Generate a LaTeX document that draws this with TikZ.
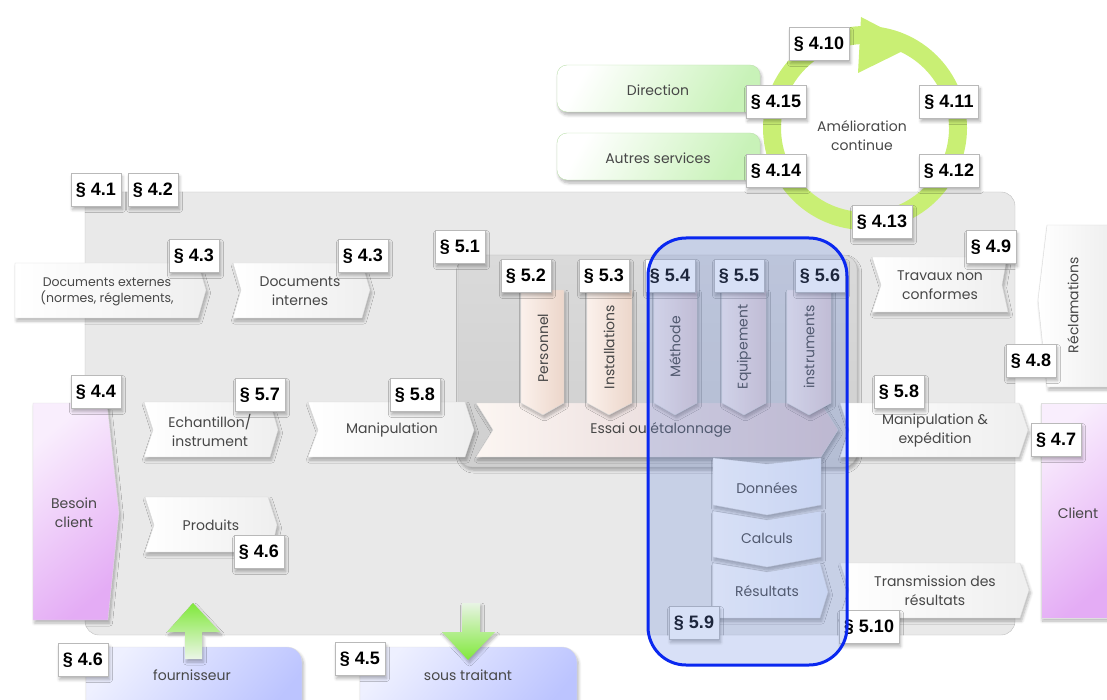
\documentclass[tikz,border=0pt]{standalone}
\usepackage{fontspec}
\setmainfont{Poppins}
\newfontfamily\secfam{Liberation Sans}
\usetikzlibrary{shadows,shadows.blur}
\definecolor{txtc}{HTML}{474747}
\definecolor{ringc}{HTML}{C9EF74}
\definecolor{bluel}{HTML}{0A28F0}
\definecolor{bluef}{HTML}{6E8EE0}
\tikzset{
 shd/.style={blur shadow={shadow xshift=1.5pt, shadow yshift=-3pt, shadow blur radius=3pt, shadow blur steps=6, shadow opacity=30}},
 chv/.style={left color=white, right color=gray!13, draw=gray!30, line width=0.4pt, shd},
 txt/.style={font=\fontsize{14}{19}\selectfont, text=txtc, align=center, inner sep=0pt},
 sec/.style={draw=gray!55, fill=white, font=\secfam\bfseries\fontsize{18}{20}\selectfont, text=black, inner xsep=5pt, inner ysep=0pt, minimum height=33pt, shd},
}
\begin{document}
\begin{tikzpicture}[x=1pt,y=-1pt]
\useasboundingbox (0,0) rectangle (1107,700);
\clip (0,0) rectangle (1107,700);
% main area
\path[draw=gray!50, fill={rgb,255:red,233;green,233;blue,233}, rounded corners=14] (85,192) rectangle (1015,635);
% green boxes
\path[top color=white, bottom color={rgb,255:red,200;green,242;blue,184}, shading angle=60, draw={rgb,255:red,190;green,225;blue,175}, rounded corners=10, shd] (557,65) rectangle (760,112);
\node[txt] (tdir) at (658,90) {Direction};
\path[top color=white, bottom color={rgb,255:red,200;green,242;blue,184}, shading angle=60, draw={rgb,255:red,190;green,225;blue,175}, rounded corners=10, shd] (557,133) rectangle (760,180);
\node[txt] (taut) at (658,158) {Autres services};
% ring
\draw[ringc, line width=18pt] (865,128) circle[radius=93pt];
\fill[ringc] (861,17) -- (915,45) -- (858,73) -- cycle;
\node[txt] (tame) at (862,136) {Amélioration\\continue};
% test area
\path[draw=gray!55, top color={rgb,255:red,218;green,218;blue,218}, bottom color={rgb,255:red,207;green,207;blue,207}, rounded corners=14, shd] (458,255) rectangle (857,467);
% chevrons
\path[chv] (15,263) -- (198,263) -- (206,290) -- (198,318) -- (15,318) -- cycle;
\node[txt, font=\fontsize{12.5}{16}\selectfont] (tdocext) at (107,292) {Documents externes\\(normes, réglements,};
\path[chv] (233,263) -- (362,263) -- (370,290) -- (362,318) -- (233,318) -- (241,290) -- cycle;
\node[txt] (tdocint) at (300,291) {Documents\\internes};
\path[chv] (144,402) -- (270,402) -- (278,430) -- (270,457) -- (144,457) -- (153,430) -- cycle;
\node[txt] (tech) at (210,430) {Echantillon/\\instrument};
\path[chv] (308,402) -- (465,402) -- (474,430) -- (465,457) -- (308,457) -- (318,430) -- cycle;
\node[txt] (tman) at (392,430) {Manipulation};
\path[left color={rgb,255:red,252;green,246;blue,242}, right color={rgb,255:red,220;green,200;blue,204}, draw=gray!30, shd] (476,403) -- (821,403) -- (838,430) -- (821,457) -- (476,457) -- (493,430) -- cycle;
\node[txt] (tess) at (661,430) {Essai ou étalonnage};
\path[chv] (840,403) -- (1019,403) -- (1028,430) -- (1019,457) -- (840,457) -- (849,430) -- cycle;
\node[txt] (tmexp) at (935,430) {Manipulation \&\\expédition};
\path[chv] (872,257) -- (1007,257) -- (1002,285) -- (1008,312) -- (872,312) -- (881,285) -- cycle;
\node[txt] (ttrav) at (940,285) {Travaux non\\conformes};
\path[chv] (145,497) -- (268,497) -- (277,525) -- (271,552) -- (145,552) -- (154,525) -- cycle;
\node[txt] (tprod) at (211,525) {Produits};
\path[chv] (840,563) -- (1020,563) -- (1029,590) -- (1020,618) -- (840,618) -- (849,590) -- cycle;
\node[txt] (ttrans) at (935,591) {Transmission des\\résultats};
\path[chv] (1047,225) -- (1112,225) -- (1112,387) -- (1047,387) -- (1038,300) -- cycle;
\node[txt, rotate=90] (trec) at (1073,305) {Réclamations};
% client boxes
\path[top color={rgb,255:red,249;green,238;blue,253}, bottom color={rgb,255:red,228;green,172;blue,245}, shading angle=40, draw=gray!25, shd] (33,403) -- (107,403) -- (119,513) -- (108,620) -- (33,620) -- cycle;
\node[txt] (tbes) at (74,513) {Besoin\\client};
\path[top color={rgb,255:red,249;green,238;blue,253}, bottom color={rgb,255:red,228;green,172;blue,245}, shading angle=40, draw=gray!25, shd] (1041,403) rectangle (1112,618);
\node[txt] (tcli) at (1078,513) {Client};
% vertical arrows
\path[left color={rgb,255:red,251;green,241;blue,236}, right color={rgb,255:red,236;green,214;blue,202}, draw=gray!30, shd] (521,290) -- (564,290) -- (564,403) -- (543,415) -- (521,403) -- cycle;
\node[txt, rotate=90] (tper) at (543,348) {Personnel};
\path[left color={rgb,255:red,251;green,241;blue,236}, right color={rgb,255:red,236;green,214;blue,202}, draw=gray!30, shd] (587,290) -- (632,290) -- (632,403) -- (609,415) -- (587,403) -- cycle;
\node[txt, rotate=90] (tins) at (609,347) {Installations};
\path[left color={rgb,255:red,245;green,236;blue,236}, right color={rgb,255:red,224;green,206;blue,210}, draw=gray!30, shd] (654,290) -- (697,290) -- (697,403) -- (675,415) -- (654,403) -- cycle;
\node[txt, rotate=90] (tmet) at (675,347) {Méthode};
\path[left color={rgb,255:red,245;green,236;blue,236}, right color={rgb,255:red,224;green,206;blue,210}, draw=gray!30, shd] (722,290) -- (766,290) -- (766,403) -- (744,415) -- (722,403) -- cycle;
\node[txt, rotate=90] (tequ) at (744,347) {Equipement};
\path[left color={rgb,255:red,245;green,236;blue,236}, right color={rgb,255:red,224;green,206;blue,210}, draw=gray!30, shd] (787,290) -- (831,290) -- (831,403) -- (809,415) -- (787,403) -- cycle;
\node[txt, rotate=90] (tinst) at (809,347) {instruments};
% data chain
\path[left color=white, right color={rgb,255:red,236;green,240;blue,250}, draw=gray!30, shd] (713,458) -- (767,464) -- (821,458) -- (821,505) -- (767,515) -- (713,505) -- cycle;
\node[txt] (tdon) at (767,488) {Données};
\path[left color=white, right color={rgb,255:red,236;green,240;blue,250}, draw=gray!30, shd] (713,511) -- (767,520) -- (821,511) -- (821,557) -- (767,567) -- (713,557) -- cycle;
\node[txt] (tcal) at (767,538) {Calculs};
\path[left color=white, right color={rgb,255:red,236;green,240;blue,250}, draw=gray!30, shd] (713,563) -- (767,572) -- (820,563) -- (828,592) -- (820,618) -- (713,618) -- cycle;
\node[txt] (tres) at (767,591) {Résultats};
% suppliers
\path[top color={rgb,255:red,238;green,240;blue,255}, bottom color={rgb,255:red,188;green,196;blue,255}, shading angle=50, rounded corners=15, draw=gray!25, shd] (86,647) rectangle (302,720);
\node[txt] (tfou) at (192,675) {fournisseur};
\path[top color={rgb,255:red,238;green,240;blue,255}, bottom color={rgb,255:red,188;green,196;blue,255}, shading angle=50, rounded corners=15, draw=gray!25, shd] (360,647) rectangle (577,720);
\node[txt] (tsou) at (468,675) {sous traitant};
% green arrows
\path[top color={rgb,255:red,128;green,232;blue,58}, bottom color={rgb,255:red,236;green,246;blue,232}, shd] (193,603) -- (220,632) -- (202,632) -- (202,659) -- (185,659) -- (185,632) -- (167,632) -- cycle;
\path[top color={rgb,255:red,232;green,244;blue,228}, bottom color={rgb,255:red,128;green,232;blue,58}, shd] (462,603) -- (480,603) -- (480,632) -- (495,632) -- (468,660) -- (442,632) -- (462,632) -- cycle;
% section labels
\node[sec] (s410) at (819,44) {§ 4.10};
\node[sec] (s415) at (776,102) {§ 4.15};
\node[sec] (s411) at (949,102) {§ 4.11};
\node[sec] (s414) at (776,171) {§ 4.14};
\node[sec] (s412) at (949,171) {§ 4.12};
\node[sec] (s413) at (882,222) {§ 4.13};
\node[sec] (s41) at (96,190) {§ 4.1};
\node[sec] (s42) at (153,190) {§ 4.2};
\node[sec] (s43a) at (194,256) {§ 4.3};
\node[sec] (s43b) at (363,256) {§ 4.3};
\node[sec] (s51) at (460,247) {§ 5.1};
\node[sec] (s52) at (526,276) {§ 5.2};
\node[sec] (s53) at (604,276) {§ 5.3};
\node[sec] (s54) at (670,276) {§ 5.4};
\node[sec] (s55) at (739,276) {§ 5.5};
\node[sec] (s56) at (820,276) {§ 5.6};
\node[sec] (s49) at (991,247) {§ 4.9};
\node[sec] (s48) at (1031,361) {§ 4.8};
\node[sec] (s44) at (96,392) {§ 4.4};
\node[sec] (s57) at (260,395) {§ 5.7};
\node[sec] (s58a) at (415,395) {§ 5.8};
\node[sec] (s58b) at (899,392) {§ 5.8};
\node[sec] (s47) at (1056,440) {§ 4.7};
\node[sec] (s46a) at (259,552) {§ 4.6};
\node[sec] (s46b) at (83,660) {§ 4.6};
\node[sec] (s45) at (360,659) {§ 4.5};
\node[sec] (s59) at (694,623) {§ 5.9};
\node[sec] (s510) at (869,627) {§ 5.10};
% blue overlay
\path[fill=bluef, fill opacity=0.27, draw=bluel, line width=3pt, rounded corners=38] (648,238) rectangle (847,665);
\end{tikzpicture}
\end{document}
